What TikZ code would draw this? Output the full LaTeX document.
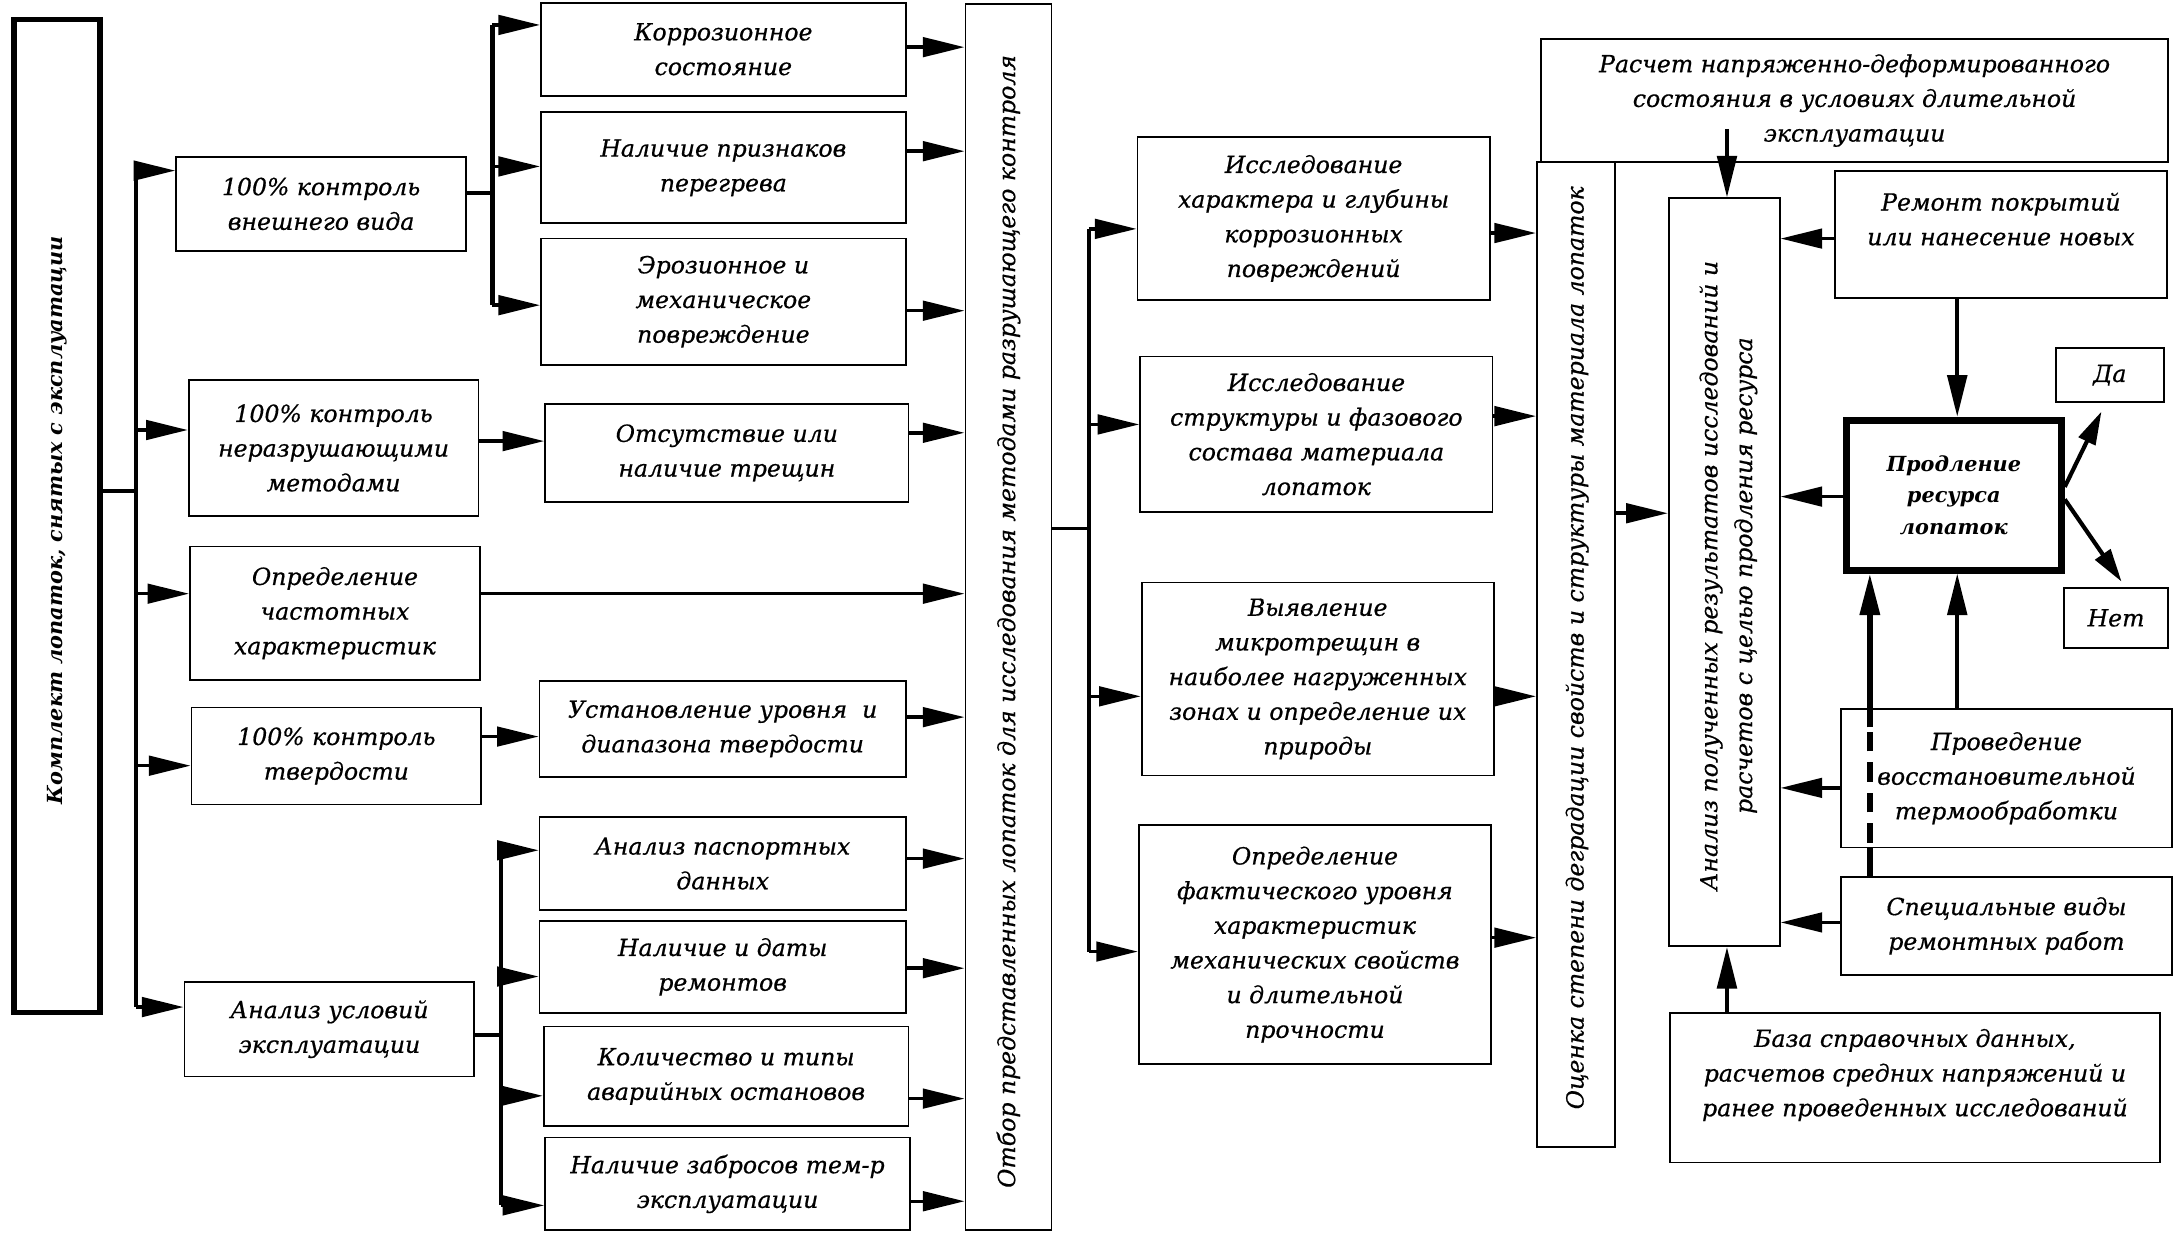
\documentclass[tikz,border=0pt]{standalone}
\usepackage{fontspec}
\setmainfont{DejaVu Serif}[ItalicFeatures={FakeBold=0.6}]
\usetikzlibrary{arrows.meta,calc}
\newcommand\boxfont{\fontsize{17}{25}\selectfont\itshape}
\newcommand\bfboxfont{\fontsize{15}{23}\selectfont\bfseries\itshape}
\newcommand\pfont{\fontsize{15}{23}\selectfont\bfseries\itshape}
\begin{document}
\begin{tikzpicture}[x=1pt,y=-1pt,
  box/.style={draw, line width=1.3pt, inner sep=0pt, align=center, font=\boxfont},
  sz/.style 2 args={minimum width=#1pt, minimum height=#2pt},
  vtext/.style={rotate=90, inner sep=0pt, font=\boxfont, align=center},
  txt/.style={inner sep=0pt, font=\boxfont, align=center},
  trunk/.style={line width=3pt},
  link/.style={line width=2.5pt},
  arr/.style={line width=2.5pt, -{Triangle[length=30pt,width=14pt]}},
  varr/.style={line width=3pt, -{Triangle[length=30pt,width=14pt]}},
  darr/.style={line width=3pt, -{Triangle[length=24pt,width=13pt]}},
]
\fill[white] (0,0) rectangle (1568,890);
\useasboundingbox (0,0) rectangle (1568,890);

% ---------- boxes ----------
\node[box, sz={62}{716}, line width=4pt] (B0) at (41,372) {};
\node[vtext, font=\bfboxfont] (B0t) at (41,375) {Комплект лопаток, снятых с эксплуатации};

\node[box, sz={209}{68}] (A1) at (231.5,147) {100\% контроль\\внешнего вида};
\node[box, sz={209}{98}] (A2) at (240.5,323) {100\% контроль\\неразрушающими\\методами};
\node[box, sz={209}{96}] (A3) at (241.5,442) {Определение\\частотных\\характеристик};
\node[box, sz={209}{70}] (A4) at (242.5,545) {100\% контроль\\твердости};
\node[box, sz={209}{68}] (A5) at (237.5,742) {Анализ условий\\эксплуатации};

\node[box, sz={263}{67}] (C1) at (521.5,35.5) {Коррозионное\\состояние};
\node[box, sz={263}{80}] (C2) at (521.5,121) {Наличие признаков\\перегрева};
\node[box, sz={263}{91}] (C3) at (521.5,217.5) {Эрозионное и\\механическое\\повреждение};
\node[box, sz={262}{71}] (C4) at (524,326.5) {Отсутствие или\\наличие трещин};
\node[box, sz={264}{69}] (C5) at (521,525.5) {Установление уровня\ \ и\\диапазона твердости};
\node[box, sz={264}{67}] (C6) at (521,622.5) {Анализ паспортных\\данных};
\node[box, sz={264}{66}] (C7) at (521,697) {Наличие и даты\\ремонтов};
\node[box, sz={263}{72}] (C8) at (523.5,776) {Количество и типы\\аварийных остановов};
\node[box, sz={263}{67}] (C9) at (524.5,853.5) {Наличие забросов тем-р\\эксплуатации};

\node[box, sz={62}{884}] (D) at (727,445) {};
\node[vtext] (Dt) at (727,448) {Отбор представленных лопаток для исследования методами разрушающего контроля};

\node[box, sz={254}{117}] (E1) at (947,157.5) {Исследование\\характера и глубины\\коррозионных\\повреждений};
\node[box, sz={254}{112}] (E2) at (949,313) {Исследование\\структуры и фазового\\состава материала\\лопаток};
\node[box, sz={254}{139}] (E3) at (950,489.5) {Выявление\\микротрещин в\\наиболее нагруженных\\зонах и определение их\\природы};
\node[box, sz={254}{172}] (E4) at (948,681) {Определение\\фактического уровня\\характеристик\\механических свойств\\и длительной\\прочности};

\node[box, sz={56}{710}] (F) at (1136,472) {};
\node[vtext] (Ft) at (1137,467) {Оценка степени деградации свойств и структуры материала лопаток};

\node[box, sz={452}{89}] (G) at (1337,72.5) {Расчет напряженно-деформированного\\состояния в условиях длительной\\эксплуатации};

\node[box, sz={80}{539}] (H) at (1243,412.5) {};
\node[vtext] (Ht) at (1246,415) {Анализ полученных результатов исследований и\\расчетов с целью продления ресурса};

\node[box, sz={239}{92}] (I) at (1442.5,169) {};
\node[txt] (It) at (1442.5,158) {Ремонт покрытий\\или нанесение новых};

\node[box, sz={155}{108}, line width=5pt, font=\pfont] (P) at (1408.5,357) {Продление\\ресурса\\лопаток};

\node[box, sz={78}{39}] (Da) at (1521,270.5) {Да};
\node[box, sz={75}{43}] (Net) at (1525.5,445.5) {Нет};

\node[box, sz={239}{100}] (J) at (1446.5,561) {Проведение\\восстановительной\\термообработки};
\node[box, sz={239}{71}] (K) at (1446.5,667.5) {Специальные виды\\ремонтных работ};

\node[box, sz={353}{108}] (L) at (1380.5,784) {};
\node[txt] (Lt) at (1380.5,775) {База справочных данных,\\расчетов средних напряжений и\\ранее проведенных исследований};

% ---------- left trunk ----------
\coordinate (t1a) at (98,123);
\coordinate (t1b) at (98,726);
\coordinate (j0) at (98,354);
\draw[trunk] (t1a) -- (t1b);
\draw[link] (B0.east |- j0) -- (j0);
\draw[arr] (t1a) -- (t1a -| A1.west);
\coordinate (t1c) at (98,310); \draw[arr] (t1c) -- (t1c -| A2.west);
\coordinate (t1d) at (98,428); \draw[arr] (t1d) -- (t1d -| A3.west);
\coordinate (t1e) at (98,552); \draw[arr] (t1e) -- (t1e -| A4.west);
\draw[arr] (t1b) -- (t1b -| A5.west);

% ---------- sub trunk 1 ----------
\coordinate (s1a) at (355,18);
\coordinate (s1b) at (355,220);
\coordinate (s1j) at (355,139);
\draw[trunk] (s1a) -- (s1b);
\draw[link] (A1.east |- s1j) -- (s1j);
\draw[arr] (s1a) -- (s1a -| C1.west);
\coordinate (s1c) at (355,120); \draw[arr] (s1c) -- (s1c -| C2.west);
\draw[arr] (s1b) -- (s1b -| C3.west);

\coordinate (ya2) at (0,318); \draw[arr] (A2.east |- ya2) -- (C4.west |- ya2);
\coordinate (ya3) at (0,428); \draw[arr] (A3.east |- ya3) -- (D.west |- ya3);
\coordinate (ya4) at (0,531); \draw[arr] (A4.east |- ya4) -- (C5.west |- ya4);

% ---------- sub trunk 2 ----------
\coordinate (s2a) at (361,613);
\coordinate (s2b) at (361,869);
\coordinate (s2j) at (361,746);
\draw[trunk] (s2a) -- (s2b);
\draw[link] (A5.east |- s2j) -- (s2j);
\draw[arr] (s2a) -- (s2a -| C6.west);
\coordinate (s2c) at (361,704); \draw[arr] (s2c) -- (s2c -| C7.west);
\coordinate (s2d) at (361,790); \draw[arr] (s2d) -- (s2d -| C8.west);
\draw[arr] (s2b) -- (s2b -| C9.west);

% ---------- C -> D ----------
\coordinate (yc1) at (0,34);  \draw[arr] (C1.east |- yc1) -- (D.west |- yc1);
\coordinate (yc2) at (0,109); \draw[arr] (C2.east |- yc2) -- (D.west |- yc2);
\coordinate (yc3) at (0,224); \draw[arr] (C3.east |- yc3) -- (D.west |- yc3);
\coordinate (yc4) at (0,312); \draw[arr] (C4.east |- yc4) -- (D.west |- yc4);
\coordinate (yc5) at (0,517); \draw[arr] (C5.east |- yc5) -- (D.west |- yc5);
\coordinate (yc6) at (0,619); \draw[arr] (C6.east |- yc6) -- (D.west |- yc6);
\coordinate (yc7) at (0,698); \draw[arr] (C7.east |- yc7) -- (D.west |- yc7);
\coordinate (yc8) at (0,792); \draw[arr] (C8.east |- yc8) -- (D.west |- yc8);
\coordinate (yc9) at (0,866); \draw[arr] (C9.east |- yc9) -- (D.west |- yc9);

% ---------- D -> E trunk ----------
\coordinate (t3a) at (785,165);
\coordinate (t3b) at (785,686);
\coordinate (j3) at (785,381);
\draw[trunk] (t3a) -- (t3b);
\draw[link] (D.east |- j3) -- (j3);
\draw[arr] (t3a) -- (t3a -| E1.west);
\coordinate (t3c) at (785,306); \draw[arr] (t3c) -- (t3c -| E2.west);
\coordinate (t3d) at (785,502); \draw[arr] (t3d) -- (t3d -| E3.west);
\draw[arr] (t3b) -- (t3b -| E4.west);

% ---------- E -> F ----------
\coordinate (ye1) at (0,168); \draw[arr] (E1.east |- ye1) -- (F.west |- ye1);
\coordinate (ye2) at (0,300); \draw[arr] (E2.east |- ye2) -- (F.west |- ye2);
\coordinate (ye3) at (0,502); \draw[arr] (E3.east |- ye3) -- (F.west |- ye3);
\coordinate (ye4) at (0,676); \draw[arr] (E4.east |- ye4) -- (F.west |- ye4);

% ---------- right part ----------
\coordinate (yf) at (0,370); \draw[arr] (F.east |- yf) -- (H.west |- yf);
\coordinate (g1) at (1245,93); \draw[varr] (g1) -- (g1 |- H.north);
\coordinate (yi) at (0,172); \draw[arr] (I.west |- yi) -- (H.east |- yi);
\coordinate (yp) at (0,358); \draw[arr] (P.west |- yp) -- (H.east |- yp);
\coordinate (yj) at (0,568); \draw[arr] (J.west |- yj) -- (H.east |- yj);
\coordinate (yk) at (0,665); \draw[arr] (K.west |- yk) -- (H.east |- yk);
\coordinate (xl) at (1245,0); \draw[varr] (L.north -| xl) -- (H.south -| xl);
\coordinate (xp) at (1411,0);
\draw[varr] (I.south -| xp) -- (P.north -| xp);
\draw[varr] (J.north -| xp) -- (P.south -| xp);
\coordinate (xk) at (1348,0);
\draw[line width=4pt] (K.north -| xk) -- (J.south -| xk);
\draw[line width=4pt, dash pattern=on 14pt off 8pt] ($(J.south -| xk)+(0,-4)$) -- ($(J.north -| xk)+(0,14)$);
\draw[varr, line width=4pt] ($(J.north -| xk)+(0,14)$) -- (P.south -| xk);
\draw[darr] ($(P.east)+(0,-6)$) -- ($(Da.south)+(-6,6)$);
\draw[darr] ($(P.east)+(0,3)$) -- ($(Net.north)+(4,-4)$);
\end{tikzpicture}
\end{document}
